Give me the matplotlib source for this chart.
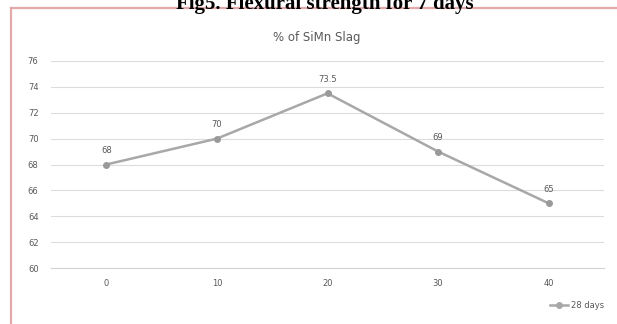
import matplotlib
matplotlib.use("Agg")
import matplotlib.pyplot as plt
from matplotlib.lines import Line2D

# Data
slag_pct = ["0", "10", "20", "30", "40"]
strength_28d = [68, 70, 73.5, 69, 65]
value_labels = ["68", "70", "73.5", "69", "65"]
y_ticks = [60, 62, 64, 66, 68, 70, 72, 74, 76]

W, H = 617, 324
fig = plt.figure(figsize=(W / 100, H / 100), dpi=100)
fig.patch.set_facecolor("white")

# Outer chart frame (left and top edges visible)
frame_col = "#e3a9a9"
fig.add_artist(Line2D([11 / W, 11 / W], [0, 1 - 8 / H], transform=fig.transFigure,
                      color=frame_col, linewidth=1.6))
fig.add_artist(Line2D([11 / W, 1], [1 - 8 / H, 1 - 8 / H], transform=fig.transFigure,
                      color=frame_col, linewidth=1.6))

# Figure caption (partly clipped at the top edge)
fig.text(325 / W, 1 - 4 / H, "Fig5. Flexural strength for 7 days",
         ha="center", va="center", fontsize=15, fontweight="bold",
         family="Liberation Serif", color="black")

ax = fig.add_axes([51 / W, 1 - 268 / H, (604 - 51) / W, (268 - 61) / H])
ax.patch.set_alpha(0)
x = list(range(len(slag_pct)))
ax.plot(x, strength_28d, color="#a8a8a8", linewidth=1.8,
        marker="o", markersize=4, markerfacecolor="#9a9a9a",
        markeredgecolor="#9a9a9a")

for xi, yi, lab in zip(x, strength_28d, value_labels):
    ax.annotate(lab, (xi, yi), xytext=(0, 7), textcoords="offset points",
                ha="center", va="bottom", fontsize=6, color="#595959")

ax.set_xlim(-0.5, len(slag_pct) - 0.5)
ax.set_ylim(60, 76)
ax.set_yticks(y_ticks)
ax.set_xticks(x)
ax.set_xticklabels(slag_pct)
ax.grid(axis="y", color="#dcdcdc", linewidth=0.8)
ax.set_axisbelow(True)
for s in ["top", "right", "left"]:
    ax.spines[s].set_visible(False)
ax.spines["bottom"].set_color("#d4d4d4")
ax.tick_params(axis="both", length=0, labelsize=6, labelcolor="#595959")
ax.tick_params(axis="y", pad=9)
ax.tick_params(axis="x", pad=8)

fig.text(317 / W, 1 - 38 / H, "% of SiMn Slag", ha="center", va="center",
         fontsize=8.5, color="#595959")

handle = Line2D([], [], color="#a8a8a8", linewidth=1.8, marker="o",
                markersize=4)
fig.legend([handle], ["28 days"], loc="center", bbox_to_anchor=(577 / W, 1 - 305 / H),
           frameon=False, fontsize=6, labelcolor="#595959",
           handlelength=2.2, handletextpad=0.4)

fig.savefig("out.png", dpi=100)
